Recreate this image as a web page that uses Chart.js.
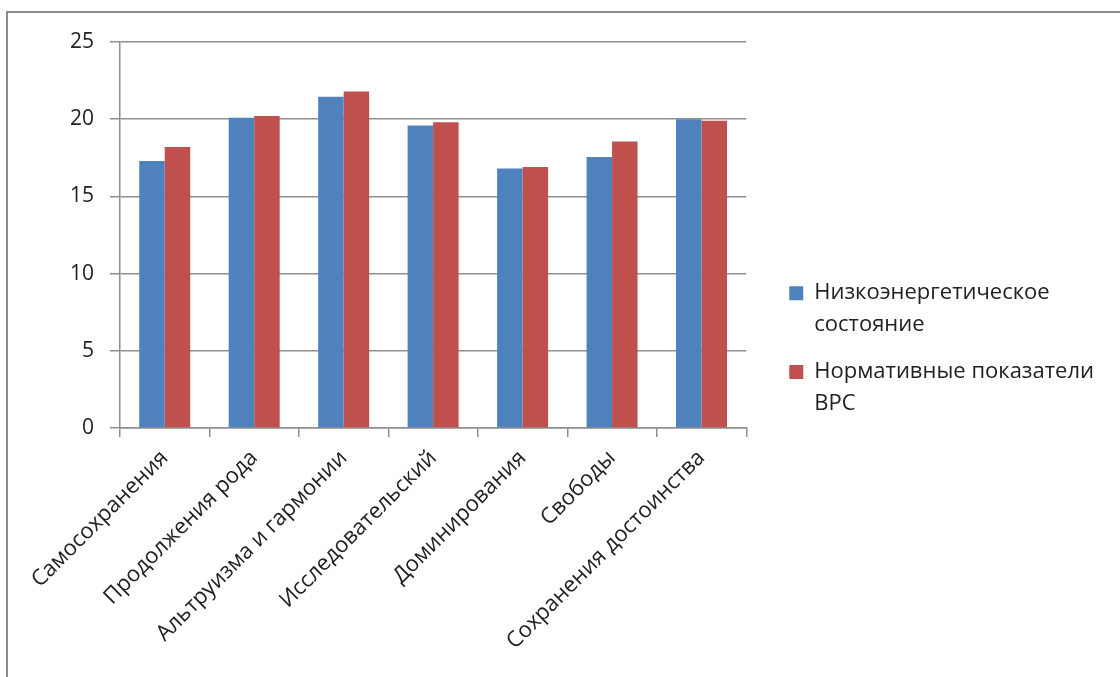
<!DOCTYPE html>
<html>
<head>
<meta charset="utf-8">
<script src="https://cdn.jsdelivr.net/npm/chart.js@4"></script>
<style>
  html, body { margin: 0; padding: 0; background: #fff; }
  #wrap { position: relative; width: 1120px; height: 677px; overflow: hidden; }
  #frame { position: absolute; left: 6px; top: 11px; width: 1200px; height: 800px;
           border-left: 2px solid #8c8c8c; border-top: 2px solid #8c8c8c; }
  canvas { position: absolute; left: 0; top: 0; }
</style>
</head>
<body>
<div id="wrap">
  <div id="frame"></div>
  <canvas id="myChart" width="1120" height="677"></canvas>
</div>
<script>
'use strict';

// ***** DATA *****
const categories = ['Самосохранения', 'Продолжения рода', 'Альтруизма и гармонии',
  'Исследовательский', 'Доминирования', 'Свободы', 'Сохранения достоинства'];
const lowEnergy = [17.3, 20.1, 21.45, 19.6, 16.8, 17.55, 20.0];
const normValues = [18.2, 20.2, 21.8, 19.8, 16.9, 18.55, 19.9];
const seriesNames = [['Низкоэнергетическое', 'состояние'], ['Нормативные показатели', 'ВРС']];
const yTicks = [0, 5, 10, 15, 20, 25];

const gridGray = '#8e8e8e';
const fontFamily = '"Open Sans", "DejaVu Sans", sans-serif';

const ctx = document.getElementById('myChart').getContext('2d');

// nudge the legend a bit away from the plot (excel leaves a wider gap)
const legendShift = {
  id: 'legendShift',
  afterLayout(chart) {
    const lg = chart.legend;
    if (!lg) return;
    lg.left += 28;
    lg.right += 28;
    lg.top -= 6;
    lg.bottom -= 6;
  }
};

const chartObj = {
  type: 'bar',
  data: {
    labels: categories,
    datasets: [{
      label: seriesNames[0],
      data: lowEnergy,
      backgroundColor: '#4f81bd'
    },
    {
      label: seriesNames[1],
      data: normValues,
      backgroundColor: '#c0504d'
    }]
  },
  options: {
    responsive: false,
    animation: false,
    layout: { padding: { top: 42, left: 0, right: 44, bottom: 0 } },
    categoryPercentage: 0.57,
    barPercentage: 1.0,
    plugins: {
      tooltip: { enabled: false },
      legend: {
        position: 'right',
        maxWidth: 360,
        labels: {
          boxWidth: 14,
          boxHeight: 14,
          padding: 15,
          color: '#222',
          font: { family: fontFamily, size: 22, lineHeight: 1.45 }
        }
      }
    },
    scales: {
      x: {
        afterFit: function (scale) { scale.height = 677 - 428; },
        grid: {
          display: true,
          drawOnChartArea: false,
          drawTicks: true,
          tickLength: 9,
          color: gridGray,
          lineWidth: 1.5
        },
        border: { color: gridGray, width: 1.5 },
        ticks: {
          maxRotation: 45,
          minRotation: 45,
          autoSkip: false,
          padding: 8,
          color: '#222',
          font: { family: fontFamily, size: 22 }
        }
      },
      y: {
        min: 0,
        max: 25,
        afterFit: function (scale) { scale.width = 120; },
        afterBuildTicks: function (scale) {
          scale.ticks = yTicks.map(v => ({ value: v }));
        },
        grid: {
          color: gridGray,
          lineWidth: 1.5,
          tickLength: 10
        },
        border: { color: gridGray, width: 1.5 },
        ticks: {
          padding: 16,
          color: '#222',
          font: { family: fontFamily, size: 21 }
        }
      }
    }
  },
  plugins: [legendShift]
};

const myChart = new Chart(ctx, chartObj);
</script>
</body>
</html>
